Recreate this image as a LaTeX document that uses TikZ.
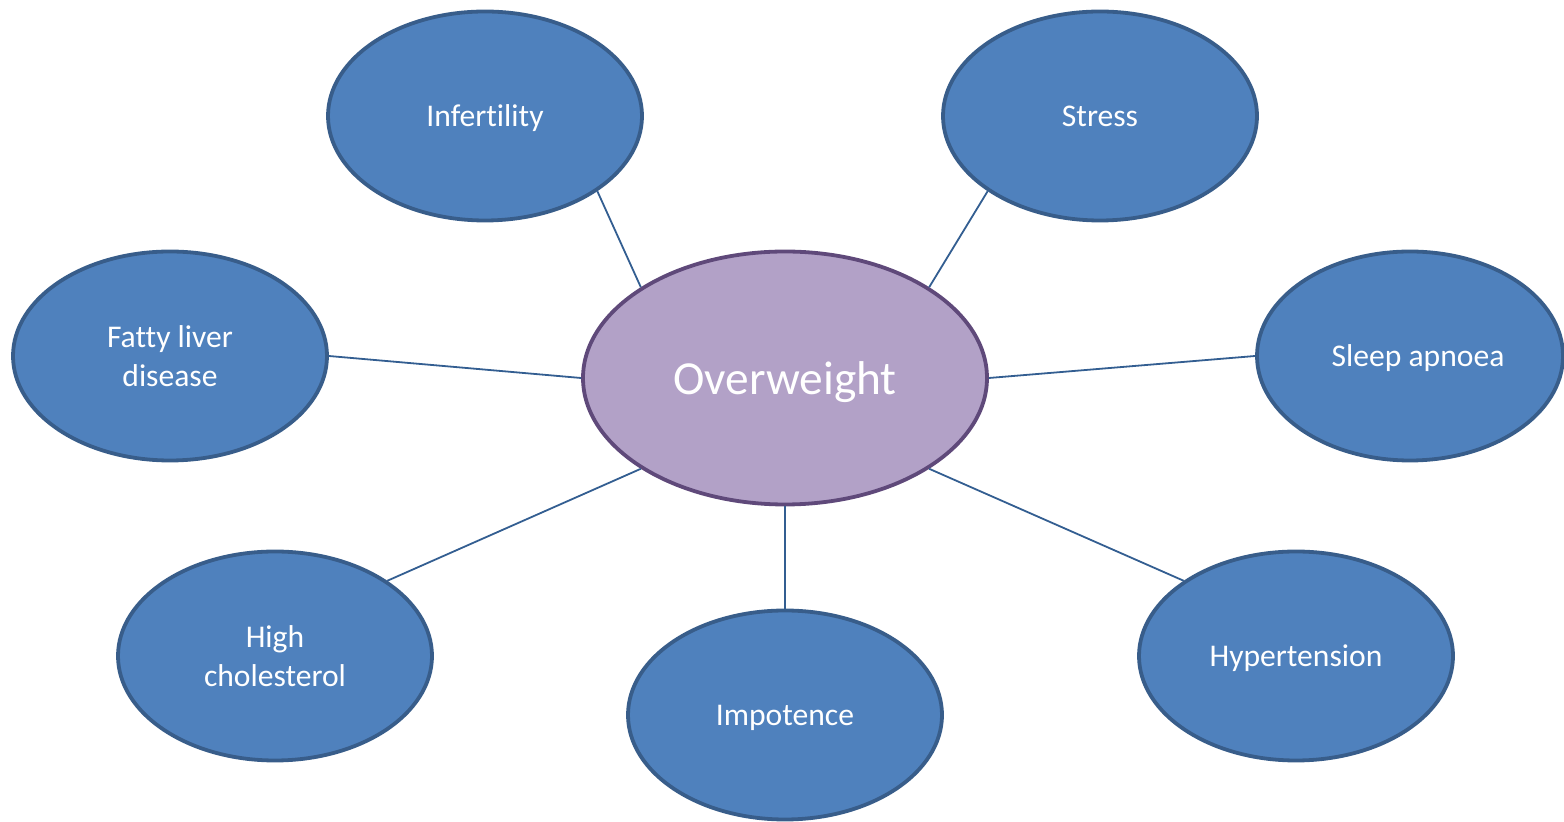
\documentclass[tikz,border=0pt]{standalone}
\usepackage{fontspec}
\setmainfont{Carlito}[Ligatures=NoCommon]
\usepackage{tikz}
\usetikzlibrary{shapes}
\usetikzlibrary{positioning}

\definecolor{effectfill}{HTML}{4F81BD}
\definecolor{effectline}{HTML}{385D8A}
\definecolor{causefill}{HTML}{B2A1C7}
\definecolor{causeline}{HTML}{5F497A}
\definecolor{linkline}{HTML}{335E91}

\begin{document}
\begin{tikzpicture}[x=0.5pt,y=-0.5pt,
	effect/.style={ellipse,draw=effectline,fill=effectfill,line width=1.9pt,inner sep=0pt,
		minimum width=157pt,minimum height=104.5pt,text=white,align=center,text depth=0pt,
		font=\fontsize{15.8}{19.5}\selectfont},
	cause/.style={ellipse,draw=causeline,fill=causefill,line width=1.9pt,inner sep=0pt,
		minimum width=202pt,minimum height=126.5pt,text=white,text depth=0pt,
		font=\fontsize{23.7}{28}\selectfont},
	link/.style={draw=linkline,line width=0.9pt}]
	\useasboundingbox (0,0) rectangle (1564,822);
	
	%centre
	\node[cause] (overweight) at (785,378) {Overweight};
	
	%effects
	\node[effect] (infertility) at (485,116) {Infertility};
	\node[effect] (stress) at (1100,116) {Stress};
	\node[effect] (fatty) at (170,356) {Fatty liver\\disease};
	\node[effect,minimum width=153pt] (sleep) at (1410,356) {\hspace*{8pt}Sleep apnoea};
	\node[effect] (cholesterol) at (275,656) {High\\cholesterol};
	\node[effect] (impotence) at (785,715) {Impotence};
	\node[effect] (hypertension) at (1296,656) {Hypertension};
	
	% Connect effects to centre
	\foreach \a/\b in {infertility.south east/overweight.north west,
		stress.south west/overweight.north east,
		fatty.east/overweight.west,
		overweight.east/sleep.west,
		cholesterol.north east/overweight.south west,
		overweight.south east/hypertension.north west} {
		\draw[link] (\a) -- (\b);
	}
	\draw[link,line width=1.4pt] (overweight.south) -- (impotence.north);

\end{tikzpicture}
\end{document}
